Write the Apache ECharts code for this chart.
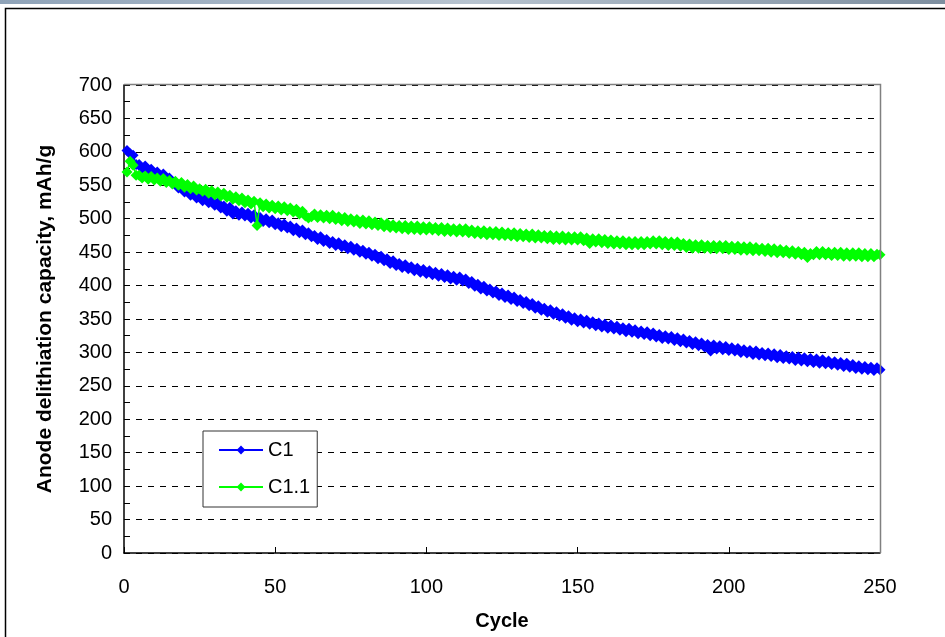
<!DOCTYPE html>
<html>
<head>
<meta charset="utf-8">
<script src="https://cdn.jsdelivr.net/npm/echarts@6/dist/echarts.min.js"></script>
<style>
  html, body { margin: 0; padding: 0; background: #ffffff; }
  #chart { width: 945px; height: 637px; }
</style>
</head>
<body>
<div id="chart"></div>
<script>
// Anode delithiation capacity (mAh/g) per cycle, cycles 1..250
const cycles = Array.from({ length: 250 }, (_, i) => i + 1);

const c1 = [
  602, 597, 595, 581, 581, 575, 579, 573, 574, 567,
  570, 564, 567, 559, 561, 553, 554, 546, 547, 540,
  543, 535, 539, 531, 534, 527, 531, 524, 527, 520,
  524, 516, 519, 511, 517, 507, 512, 505, 510, 504,
  508, 501, 506, 499, 502, 496, 500, 494, 498, 491,
  494, 488, 492, 486, 489, 482, 486, 479, 483, 476,
  479, 473, 475, 469, 473, 466, 469, 463, 466, 460,
  464, 458, 461, 455, 459, 453, 456, 450, 453, 447,
  450, 444, 447, 440, 444, 437, 440, 433, 437, 430,
  433, 427, 431, 425, 428, 422, 426, 420, 424, 418,
  422, 416, 420, 414, 418, 412, 416, 410, 414, 408,
  413, 407, 410, 403, 406, 399, 402, 395, 399, 392,
  395, 389, 392, 385, 389, 382, 386, 379, 383, 376,
  379, 373, 376, 370, 373, 366, 370, 363, 366, 360,
  364, 357, 361, 354, 358, 351, 355, 348, 352, 346,
  350, 344, 348, 342, 346, 340, 344, 338, 342, 336,
  341, 335, 339, 333, 337, 331, 336, 330, 334, 328,
  332, 327, 331, 325, 329, 323, 327, 321, 325, 320,
  324, 318, 322, 316, 320, 314, 318, 312, 316, 310,
  314, 308, 312, 302, 311, 305, 310, 304, 309, 303,
  307, 302, 306, 300, 304, 299, 303, 297, 302, 296,
  300, 295, 299, 294, 298, 292, 297, 291, 295, 290,
  294, 288, 293, 287, 292, 286, 291, 285, 290, 284,
  289, 283, 287, 282, 286, 281, 285, 279, 284, 278,
  282, 276, 280, 275, 279, 274, 278, 273, 277, 274
];

const c11 = [
  570, 586, 580, 565, 565, 561, 564, 559, 563, 558,
  561, 556, 560, 554, 557, 552, 556, 550, 554, 547,
  551, 545, 549, 543, 545, 541, 544, 538, 542, 536,
  540, 534, 538, 532, 535, 529, 533, 527, 531, 524,
  528, 522, 526, 490, 524, 518, 522, 516, 520, 515,
  519, 513, 518, 512, 516, 510, 514, 507, 511, 504,
  501, 503, 507, 502, 506, 501, 505, 500, 505, 499,
  503, 497, 502, 496, 500, 495, 499, 493, 498, 492,
  497, 491, 495, 490, 494, 488, 493, 487, 491, 486,
  490, 485, 490, 484, 489, 484, 489, 483, 488, 483,
  488, 483, 487, 482, 487, 481, 486, 481, 485, 480,
  485, 480, 485, 479, 483, 478, 482, 477, 482, 476,
  481, 476, 481, 475, 480, 475, 479, 474, 479, 473,
  478, 473, 477, 472, 477, 471, 476, 471, 475, 470,
  475, 469, 474, 469, 474, 468, 473, 468, 473, 468,
  473, 467, 471, 463, 470, 465, 470, 464, 469, 463,
  468, 462, 467, 462, 467, 461, 466, 461, 466, 461,
  466, 461, 466, 462, 467, 462, 467, 461, 466, 460,
  465, 460, 465, 459, 463, 457, 462, 456, 461, 456,
  461, 456, 460, 455, 460, 455, 460, 455, 460, 454,
  459, 454, 459, 453, 458, 453, 458, 452, 457, 452,
  456, 451, 456, 450, 455, 449, 454, 449, 453, 448,
  452, 447, 451, 446, 450, 442, 448, 446, 451, 446,
  451, 446, 450, 445, 450, 445, 450, 444, 449, 444,
  449, 444, 449, 443, 448, 443, 448, 443, 447, 446
];

const xTicks = [0, 50, 100, 150, 200, 250];
const yTicks = [0, 50, 100, 150, 200, 250, 300, 350, 400, 450, 500, 550, 600, 650, 700];

const chart = echarts.init(document.getElementById('chart'), null, { renderer: 'canvas' });
const font = 'Liberation Sans, Arial, sans-serif';

function pairs(values) {
  return cycles.map((c, i) => [c, values[i]]);
}

chart.setOption({
  animation: false,
  backgroundColor: '#ffffff',
  textStyle: { fontFamily: font },
  graphic: [
    {
      type: 'rect',
      shape: { x: 0, y: 0, width: 945, height: 4 },
      style: {
        fill: new echarts.graphic.LinearGradient(0, 0, 1, 0, [
          { offset: 0, color: '#8fa3b8' },
          { offset: 0.5, color: '#b7c3cf' },
          { offset: 1, color: '#7d8e9f' }
        ])
      },
      silent: true
    },
    {
      type: 'rect',
      shape: { x: 5.5, y: 8.5, width: 960, height: 650 },
      style: { fill: 'none', stroke: '#000000', lineWidth: 1.5 },
      silent: true
    },
    {
      type: 'polyline',
      shape: { points: [[124, 84.5], [880.5, 84.5], [880.5, 553]] },
      style: { stroke: '#808080', lineWidth: 1.5, fill: 'none' },
      silent: true,
      z: 10
    }
  ],
  grid: { left: 124, right: 65, top: 85, bottom: 84, containLabel: false },
  legend: {
    orient: 'vertical',
    left: 203,
    top: 431,
    data: ['C1', 'C1.1'],
    backgroundColor: '#ffffff',
    borderColor: '#333333',
    borderWidth: 1,
    padding: [9, 7, 10, 15],
    itemWidth: 44,
    itemHeight: 11,
    itemGap: 17,
    textStyle: { fontSize: 20, color: '#000000', fontFamily: font }
  },
  xAxis: {
    type: 'value',
    min: 0,
    max: 250,
    interval: 50,
    name: 'Cycle',
    nameLocation: 'middle',
    nameGap: 58,
    nameTextStyle: { fontSize: 20, fontWeight: 'bold', color: '#000000', fontFamily: font },
    axisLine: { show: true, onZero: false, lineStyle: { color: '#000000', width: 1.5 } },
    axisTick: { show: true, inside: true, length: 6, lineStyle: { color: '#000000' } },
    axisLabel: {
      fontSize: 20, color: '#000000', margin: 24, fontFamily: font,
      formatter: v => (xTicks.includes(v) ? String(v) : '')
    },
    splitLine: { show: false }
  },
  yAxis: {
    type: 'value',
    min: 0,
    max: 700,
    interval: 50,
    name: 'Anode delithiation capacity, mAh/g',
    nameLocation: 'middle',
    nameGap: 68,
    nameRotate: 90,
    nameTextStyle: { fontSize: 21, fontWeight: 'bold', color: '#000000', fontFamily: font },
    axisLine: { show: true, onZero: false, lineStyle: { color: '#000000', width: 1.5 } },
    axisTick: { show: true, inside: true, length: 6, lineStyle: { color: '#000000' } },
    minorTick: { show: true, splitNumber: 2, length: 6, lineStyle: { color: '#000000' } },
    axisLabel: {
      fontSize: 20, color: '#000000', margin: 12, fontFamily: font,
      formatter: v => (yTicks.includes(v) ? String(v) : '')
    },
    splitLine: { show: true, lineStyle: { color: '#000000', type: [6, 6], width: 1 } }
  },
  series: [
    {
      name: 'C1',
      type: 'line',
      data: pairs(c1),
      symbol: 'diamond',
      symbolSize: 11,
      showAllSymbol: true,
      color: '#0000ff',
      lineStyle: { color: '#0000ff', width: 1.5 },
      itemStyle: { color: '#0000ff' },
      z: 3
    },
    {
      name: 'C1.1',
      type: 'line',
      data: pairs(c11),
      symbol: 'diamond',
      symbolSize: 11,
      showAllSymbol: true,
      color: '#00ff00',
      lineStyle: { color: '#00ff00', width: 1.5 },
      itemStyle: { color: '#00ff00' },
      z: 4
    }
  ]
});
</script>
</body>
</html>
